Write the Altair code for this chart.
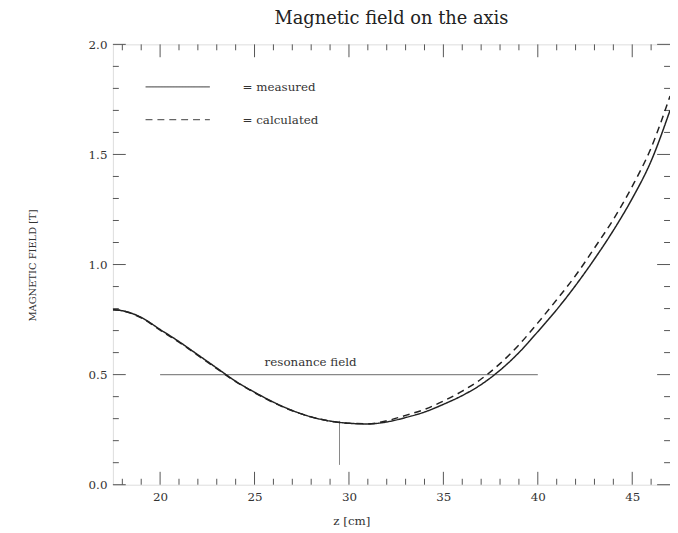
import altair as alt
import pandas as pd

# ---- data ----
z_cm = [17.5, 18, 19, 20, 21, 22, 23, 24, 25, 26, 27, 28, 29, 30, 31, 32,
        33, 34, 35, 36, 37, 38, 39, 40, 41, 42, 43, 44, 45, 46, 47]
measured = [0.795, 0.79, 0.76, 0.705, 0.65, 0.59, 0.53, 0.47, 0.42, 0.375, 0.337,
            0.308, 0.289, 0.279, 0.276, 0.285, 0.305, 0.33, 0.365, 0.405, 0.455,
            0.52, 0.60, 0.695, 0.795, 0.905, 1.025, 1.155, 1.30, 1.47, 1.70]
calculated = [0.795, 0.79, 0.758, 0.702, 0.647, 0.587, 0.527, 0.468, 0.418, 0.373,
              0.336, 0.308, 0.289, 0.279, 0.277, 0.29, 0.315, 0.342, 0.38, 0.425,
              0.48, 0.55, 0.635, 0.735, 0.84, 0.95, 1.075, 1.205, 1.355, 1.53, 1.765]

resonance_z = [20, 40]
resonance_b = [0.5, 0.5]
marker_z = [29.5]
marker_b = [0.29, 0.09]

x_major = [20, 25, 30, 35, 40, 45]
x_minor = [18, 19, 21, 22, 23, 24, 26, 27, 28, 29, 31, 32, 33, 34, 36, 37, 38, 39,
           41, 42, 43, 44, 46]
y_major = [0.0, 0.5, 1.0, 1.5, 2.0]
y_minor = [0.1, 0.2, 0.3, 0.4, 0.6, 0.7, 0.8, 0.9, 1.1, 1.2, 1.3, 1.4, 1.6, 1.7, 1.8, 1.9]

W, H = 563, 445
FONT = "DejaVu Serif"
INK = "#333333"

xs = alt.Scale(domain=[17.5, 47], nice=False, zero=False)
ys = alt.Scale(domain=[0, 2], nice=False, zero=False)

curves = pd.DataFrame({
    "z": z_cm * 2,
    "B": measured + calculated,
    "series": ["measured"] * len(z_cm) + ["calculated"] * len(z_cm),
})

lines = alt.Chart(curves).mark_line(strokeWidth=1.5, clip=True, color="#222222",
                                    interpolate="monotone").encode(
    x=alt.X("z:Q", scale=xs, title="z [cm]",
            axis=alt.Axis(values=x_major, ticks=False, domain=False, grid=False,
                          labelFont=FONT, labelFontSize=12, labelColor=INK,
                          labelPadding=7, titleFont=FONT, titleFontSize=12,
                          titleFontWeight="normal", titleColor=INK, titleX=241,
                          titleY=36, titleBaseline="middle")),
    y=alt.Y("B:Q", scale=ys, title="MAGNETIC FIELD [T]",
            axis=alt.Axis(values=y_major, format=".1f", ticks=False, domain=False,
                          grid=False, labelFont=FONT, labelFontSize=12,
                          labelColor=INK, labelPadding=6, titleFont=FONT,
                          titleFontSize=10, titleFontWeight="normal",
                          titleColor=INK, titleX=-81, titleY=223, titleAngle=270,
                          titleBaseline="middle")),
    strokeDash=alt.StrokeDash("series:N",
                              scale=alt.Scale(domain=["measured", "calculated"],
                                              range=[[1, 0], [7, 5]]),
                              legend=None),
    detail="series:N",
)

res_df = pd.DataFrame({"z": resonance_z, "B": resonance_b})
res_line = alt.Chart(res_df).mark_line(color="#888888", strokeWidth=1.3).encode(
    x=alt.X("z:Q", scale=xs), y=alt.Y("B:Q", scale=ys))
res_text = alt.Chart(pd.DataFrame({"z": [27.97], "B": [0.557], "t": ["resonance field"]})
                     ).mark_text(font=FONT, fontSize=12, color=INK, align="center",
                                 baseline="middle").encode(
    x=alt.X("z:Q", scale=xs), y=alt.Y("B:Q", scale=ys), text="t:N")

mk_df = pd.DataFrame({"z": marker_z * 2, "B": marker_b})
mk_line = alt.Chart(mk_df).mark_line(color="#888888", strokeWidth=1).encode(
    x=alt.X("z:Q", scale=xs), y=alt.Y("B:Q", scale=ys))

tick_color = "#555555"
def xticks(vals, length):
    d = pd.DataFrame({"z": vals})
    bot = alt.Chart(d).mark_rule(color=tick_color, strokeWidth=1).encode(
        x=alt.X("z:Q", scale=xs), y=alt.value(H), y2=alt.value(H - length))
    top = alt.Chart(d).mark_rule(color=tick_color, strokeWidth=1).encode(
        x=alt.X("z:Q", scale=xs), y=alt.value(0), y2=alt.value(length))
    return bot + top

def yticks(vals, length):
    d = pd.DataFrame({"B": vals})
    left = alt.Chart(d).mark_rule(color=tick_color, strokeWidth=1).encode(
        y=alt.Y("B:Q", scale=ys), x=alt.value(0), x2=alt.value(length))
    right = alt.Chart(d).mark_rule(color=tick_color, strokeWidth=1).encode(
        y=alt.Y("B:Q", scale=ys), x=alt.value(W), x2=alt.value(W - length))
    return left + right

# legend drawn inside the plot
leg = pd.DataFrame({"series": ["measured", "calculated"],
                    "label": ["= measured", "= calculated"],
                    "yy": [43, 76]})
leg_lines = alt.Chart(leg).mark_rule(color="#666666", strokeWidth=1.2).encode(
    x=alt.value(33), x2=alt.value(98), y=alt.Y("yy:Q", scale=None),
    strokeDash=alt.StrokeDash("series:N",
                              scale=alt.Scale(domain=["measured", "calculated"],
                                              range=[[1, 0], [7, 5]]),
                              legend=None))
leg_text = alt.Chart(leg).mark_text(font=FONT, fontSize=12, color=INK, align="left",
                                    baseline="middle").encode(
    x=alt.value(131), y=alt.Y("yy:Q", scale=None), text="label:N")

chart = alt.layer(
    xticks(x_major, 13), xticks(x_minor, 6), yticks(y_major, 13), yticks(y_minor, 6),
    res_line, mk_line, res_text, leg_lines, leg_text, lines,
).properties(
    width=W, height=H,
    title=alt.TitleParams("Magnetic field on the axis", font=FONT, fontSize=18,
                          fontWeight="normal", color="#222222", anchor="middle",
                          offset=11),
    autosize=alt.AutoSizeParams(type="none"),
    padding={"left": 106, "top": 34, "right": 0, "bottom": 40},
).configure_view(stroke="#555555", strokeWidth=1.2).configure(background="white")

chart.save("out.html", embed_options={"renderer": "svg", "actions": False})
